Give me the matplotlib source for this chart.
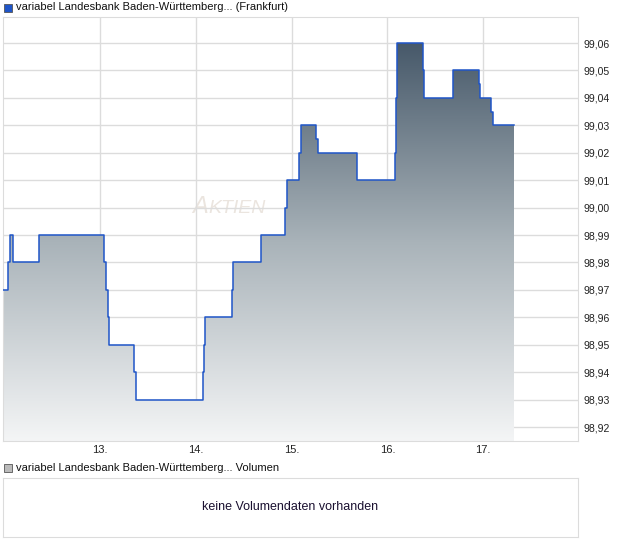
import numpy as np
import matplotlib
import matplotlib.pyplot as plt
from matplotlib.colors import LinearSegmentedColormap
from matplotlib.patches import Rectangle

matplotlib.use('Agg')
plt.rcParams['font.family'] = ['Liberation Sans', 'DejaVu Sans']

# Kurs (Tage als Bruchteil, Wert nach dem Schritt)
days = [11.987, 12.039, 12.060, 12.091, 12.368, 13.042, 13.063, 13.084, 13.094,
        13.355, 13.376, 14.076, 14.086, 14.097, 14.379, 14.389, 14.681, 14.932,
        14.953, 15.078, 15.099, 15.256, 15.277, 15.684, 16.081, 16.091, 16.102,
        16.373, 16.384, 16.687, 16.958, 16.969, 17.084, 17.104, 17.324]
prices = [98.97, 98.98, 98.99, 98.98, 98.99, 98.98, 98.97, 98.96, 98.95,
          98.94, 98.93, 98.94, 98.95, 98.96, 98.97, 98.98, 98.99, 99.00,
          99.01, 99.02, 99.03, 99.025, 99.02, 99.01, 99.02, 99.04, 99.06,
          99.05, 99.04, 99.05, 99.045, 99.04, 99.035, 99.03, 99.03]
xticks = [13, 14, 15, 16, 17]
xlabels = ['13.', '14.', '15.', '16.', '17.']
yticks = [98.92, 98.93, 98.94, 98.95, 98.96, 98.97, 98.98, 98.99,
          99.00, 99.01, 99.02, 99.03, 99.04, 99.05, 99.06]

W, H = 620, 546
fig = plt.figure(figsize=(W / 100, H / 100), dpi=100)
grid_c = '#dcdcdc'

ax = fig.add_axes([3 / W, 1 - 441 / H, 575 / W, 424 / H])
ymin, ymax = 98.9149, 99.0695
ax.set_xlim(11.987, 17.99)
ax.set_ylim(ymin, ymax)

# Verlauf unter der Linie
cmap = LinearSegmentedColormap.from_list('g', ['#f4f5f6', '#a9b3b9', '#47596a'])
grad = np.linspace(0, 1, 256).reshape(-1, 1)
im = ax.imshow(grad, aspect='auto', cmap=cmap, origin='lower',
               extent=[days[0], days[-1], ymin, max(prices)], zorder=2)
fill = ax.fill_between(days, prices, ymin, step='post', color='none', zorder=1)
im.set_clip_path(fill.get_paths()[0], transform=ax.transData)
ax.step(days, prices, where='post', color='#1f55c8', lw=1.1, zorder=3)

ax.set_xticks(xticks)
ax.set_xticklabels(xlabels)
ax.set_yticks(yticks)
ax.set_yticklabels([f'{v:.2f}'.replace('.', ',') for v in yticks])
ax.yaxis.tick_right()
ax.tick_params(length=0, labelsize=8, colors='#222222')
ax.tick_params(axis='y', pad=4, labelsize=7.6)
ax.tick_params(axis='x', pad=3)
ax.grid(True, color=grid_c, lw=1, zorder=0)
for s in ax.spines.values():
    s.set_color(grid_c)

# Wasserzeichen
ax.text(0.357, 0.552, 'A', transform=ax.transAxes, fontsize=17,
        style='italic', color='#ebe5df', ha='right', va='center', zorder=1)
ax.text(0.357, 0.548, 'KTIEN', transform=ax.transAxes, fontsize=14,
        style='italic', color='#ebe5df', ha='left', va='center', zorder=1)

# Legenden
fig.patches.append(Rectangle((4 / W, 1 - 12 / H), 8 / W, 8 / H, transform=fig.transFigure,
                             facecolor='#1f55c8', edgecolor='#555555', lw=0.6))
fig.text(16 / W, 1 - 7 / H, 'variabel Landesbank Baden-Württemberg... (Frankfurt)',
         fontsize=8, va='center', color='#111111')
fig.patches.append(Rectangle((4 / W, 1 - 472 / H), 8 / W, 8 / H, transform=fig.transFigure,
                             facecolor='#bbbbbb', edgecolor='#555555', lw=0.6))
fig.text(16 / W, 1 - 468 / H, 'variabel Landesbank Baden-Württemberg... Volumen',
         fontsize=8, va='center', color='#111111')

# Volumen
vax = fig.add_axes([3 / W, 1 - 537 / H, 575 / W, 59 / H])
vax.set_xticks([])
vax.set_yticks([])
for s in vax.spines.values():
    s.set_color(grid_c)
vax.text(0.5, 0.5, 'keine Volumendaten vorhanden', transform=vax.transAxes,
         ha='center', va='center', fontsize=9, color='#1a1030')

fig.savefig('out.png', dpi=100)
